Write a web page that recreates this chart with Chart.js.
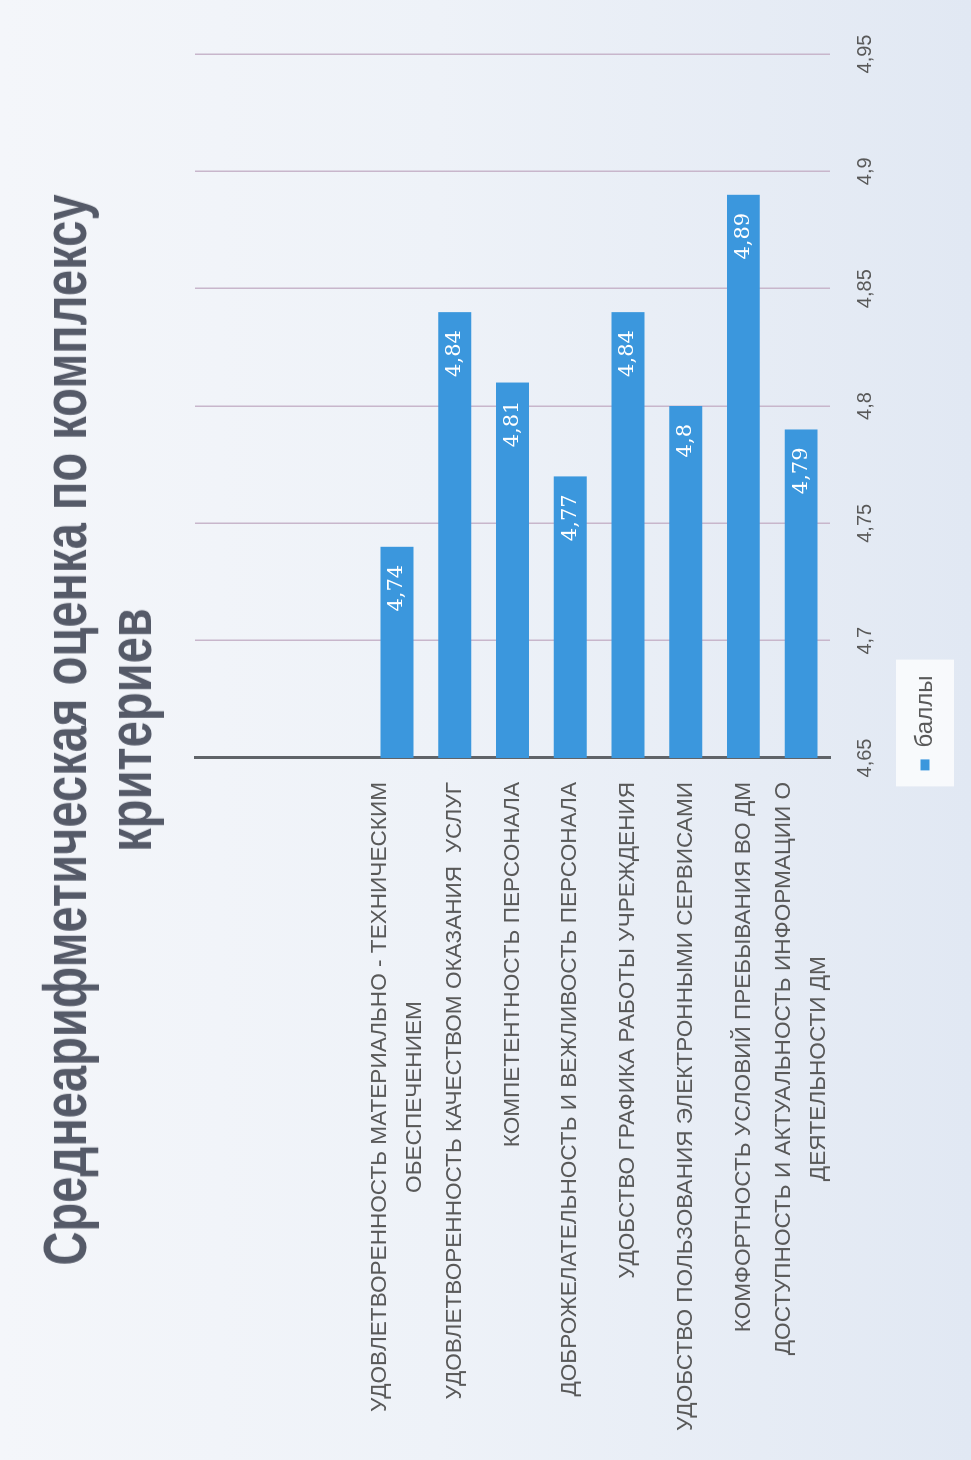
<!DOCTYPE html>
<html lang="ru">
<head>
<meta charset="UTF-8">
<title>Среднеарифметическая оценка по комплексу критериев</title>
<script src="https://cdn.jsdelivr.net/npm/chart.js"></script>
<style>
  html, body { margin: 0; padding: 0; }
  body {
    width: 971px; height: 1460px; overflow: hidden; position: relative;
    background: linear-gradient(to right, #f4f6fa 0%, #eef2f8 45%, #e1e8f3 100%);
  }
  /* the slide was photographed turned on its side */
  #slide {
    position: absolute; left: 0; top: 0;
    width: 1460px; height: 971px;
    transform-origin: 0 0;
    transform: translateY(1460px) rotate(-90deg);
  }
  #title {
    position: absolute; left: 0; top: 0; width: 1460px;
    padding-top: 32px;
    text-align: center;
    font: bold 62px "Liberation Sans", Arial, sans-serif;
    line-height: 65px;
    color: #555a68;
    transform: scaleX(0.76);
    transform-origin: 50% 0;
  }
  #chartBox { position: absolute; left: 0; top: 0; width: 1460px; height: 971px; }
</style>
</head>
<body>
<div id="slide">
  <div id="chartBox"><canvas id="myChart"></canvas></div>
  <div id="title">Среднеарифметическая оценка по комплексу<br>критериев</div>
</div>

<script>
// data (first three rows of the sheet were empty)
const categories = [
  '', '', '',
  ['УДОВЛЕТВОРЕННОСТЬ МАТЕРИАЛЬНО - ТЕХНИЧЕСКИМ', 'ОБЕСПЕЧЕНИЕМ'],
  ['УДОВЛЕТВОРЕННОСТЬ КАЧЕСТВОМ ОКАЗАНИЯ  УСЛУГ'],
  ['КОМПЕТЕНТНОСТЬ ПЕРСОНАЛА'],
  ['ДОБРОЖЕЛАТЕЛЬНОСТЬ И ВЕЖЛИВОСТЬ ПЕРСОНАЛА'],
  ['УДОБСТВО ГРАФИКА РАБОТЫ УЧРЕЖДЕНИЯ'],
  ['УДОБСТВО ПОЛЬЗОВАНИЯ ЭЛЕКТРОННЫМИ СЕРВИСАМИ'],
  ['КОМФОРТНОСТЬ УСЛОВИЙ ПРЕБЫВАНИЯ ВО ДМ'],
  ['ДОСТУПНОСТЬ И АКТУАЛЬНОСТЬ ИНФОРМАЦИИ О', 'ДЕЯТЕЛЬНОСТИ ДМ']
]
const scores = [null, null, null, 4.74, 4.84, 4.81, 4.77, 4.84, 4.8, 4.89, 4.79]
const seriesName = 'баллы'
const axisMin = 4.65
const axisMax = 4.95
const axisStep = 0.05
const tickLabels = ['4,65', '4,7', '4,75', '4,8', '4,85', '4,9', '4,95']

const sans = '"Liberation Sans", Arial, sans-serif'

// category names: each block right-aligned to the axis, its lines centred
const categoryText = {
  id: 'categoryText',
  afterDraw(chart) {
    const ctx = chart.ctx
    const yScale = chart.scales.y
    const right = chart.chartArea.left - 24
    ctx.save()
    ctx.font = '22.6px ' + sans
    ctx.fillStyle = '#595959'
    ctx.textAlign = 'center'
    ctx.textBaseline = 'middle'
    categories.forEach((lab, i) => {
      if (!lab) return
      const lines = Array.isArray(lab) ? lab : [lab]
      let w = 0
      lines.forEach(l => { w = Math.max(w, ctx.measureText(l).width) })
      const cx = right - w / 2
      const cy = yScale.getPixelForTick(i)
      lines.forEach((l, j) => {
        ctx.fillText(l, cx, cy + (j - (lines.length - 1) / 2) * 35)
      })
    })
    ctx.restore()
  }
}

// values written inside the end of each bar
const valueText = {
  id: 'valueText',
  afterDatasetsDraw(chart) {
    const ctx = chart.ctx
    const meta = chart.getDatasetMeta(0)
    ctx.save()
    ctx.font = '21px "DejaVu Serif", serif'
    ctx.fillStyle = '#ffffff'
    ctx.textAlign = 'right'
    ctx.textBaseline = 'middle'
    meta.data.forEach((bar, i) => {
      if (scores[i] == null) return
      ctx.fillText(String(scores[i]).replace('.', ','), bar.x - 18, bar.y)
    })
    ctx.restore()
  }
}

// legend sits a little right of the full-width centre, on a white box
const legendBox = {
  id: 'legendBox',
  afterLayout(chart) {
    const lg = chart.legend
    if (!lg) return
    lg.left += 34
    lg.right += 34
  },
  beforeDraw(chart) {
    const lg = chart.legend
    if (!lg || !lg.legendHitBoxes || !lg.legendHitBoxes.length) return
    const hb = lg.legendHitBoxes[0]
    const ctx = chart.ctx
    ctx.save()
    ctx.fillStyle = 'rgba(255,255,255,0.75)'
    const cy = hb.top + hb.height / 2
    ctx.fillRect(hb.left - 16, cy - 29, hb.width + 32, 58)
    ctx.restore()
  }
}

new Chart(document.getElementById('myChart'), {
  type: 'bar',
  data: {
    labels: categories,
    datasets: [{
      label: seriesName,
      data: scores,
      backgroundColor: '#3b97dd',
      borderWidth: 0,
      barPercentage: 0.57,
      categoryPercentage: 1
    }]
  },
  options: {
    indexAxis: 'y',
    responsive: true,
    maintainAspectRatio: false,
    animation: false,
    layout: { padding: { top: 195, right: 54, bottom: 24, left: 0 } },
    plugins: {
      title: { display: false },
      tooltip: { enabled: false },
      legend: {
        position: 'bottom',
        labels: {
          color: '#595959',
          font: { family: sans, size: 24 },
          boxWidth: 11,
          boxHeight: 9,
          padding: 10
        }
      }
    },
    scales: {
      y: {
        ticks: { display: false },
        grid: { display: false },
        border: { display: true, color: '#5f6368', width: 3 },
        afterFit(scale) { scale.width = 702 }
      },
      x: {
        min: axisMin,
        max: axisMax,
        ticks: {
          stepSize: axisStep,
          color: '#595959',
          font: { family: sans, size: 20 },
          padding: 23,
          callback: (v, i) => tickLabels[i]
        },
        grid: { color: '#c8b6cb', lineWidth: 1.5, drawTicks: false },
        border: { display: false },
        afterFit(scale) { scale.height = 73 }
      }
    }
  },
  plugins: [legendBox, categoryText, valueText]
})
</script>
</body>
</html>
